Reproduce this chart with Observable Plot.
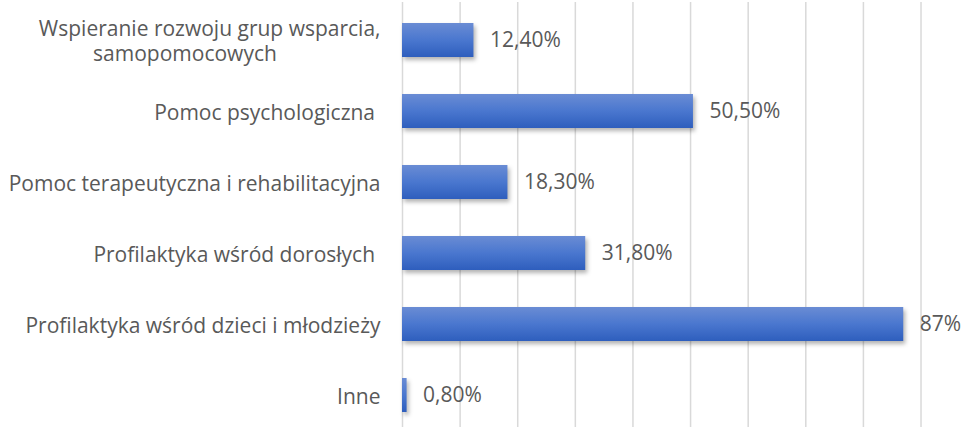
<!DOCTYPE html>
<html>
<head>
<meta charset="utf-8">
<script src="https://cdn.jsdelivr.net/npm/d3@7"></script>
<script src="https://cdn.jsdelivr.net/npm/@observablehq/plot@0.6"></script>
<style>
  html, body { margin: 0; padding: 0; background: #fff; overflow: hidden; }
  svg text { white-space: pre; }
</style>
</head>
<body>
<div id="chart"></div>
<script>
const categories = [
  "Wspieranie rozwoju grup wsparcia,\nsamopomocowych" + " ".repeat(19),
  "Pomoc psychologiczna ",
  "Pomoc terapeutyczna i rehabilitacyjna",
  "Profilaktyka wśród dorosłych ",
  "Profilaktyka wśród dzieci i młodzieży",
  "Inne"
];
const values = [12.4, 50.5, 18.3, 31.8, 87, 0.8];
const valueLabels = ["12,40%", "50,50%", "18,30%", "31,80%", "87%", "0,80%"];
const gridTicks = [0, 10, 20, 30, 40, 50, 60, 70, 80, 90];

const data = categories.map((c, i) => ({category: c, value: values[i], label: valueLabels[i]}));

const FONT = "'Open Sans', Lato, sans-serif";
const FS = 21;

const svg = Plot.plot({
  width: 962,
  height: 432,
  marginLeft: 402,
  marginRight: 0,
  marginTop: 2,
  marginBottom: 0,
  x: {domain: [0, 97.2], axis: null},
  y: {domain: categories, axis: null, paddingInner: 0.525, paddingOuter: 0.2625},
  style: {fontFamily: FONT, fontSize: FS + "px", color: "#595959", background: "white"},
  marks: [
    Plot.ruleX(gridTicks, {stroke: "#d9d9d9", strokeWidth: 1.5}),
    Plot.barX(data, {x: "value", y: "category", fill: "url(#barGrad)"}),
    Plot.text(data, {x: "value", y: "category", text: "label", textAnchor: "start", dx: 16, fill: "#595959", fontSize: FS}),
    Plot.text(data, {x: 0, y: "category", text: "category", textAnchor: "end", dx: -22, fill: "#595959", fontSize: FS, lineHeight: 1.2})
  ]
});

const defs = d3.select(svg).insert("defs", ":first-child");
const grad = defs.append("linearGradient").attr("id", "barGrad")
  .attr("x1", 0).attr("y1", 0).attr("x2", 0).attr("y2", 1);
grad.append("stop").attr("offset", "0%").attr("stop-color", "#6a8cd4");
grad.append("stop").attr("offset", "50%").attr("stop-color", "#4a77cf");
grad.append("stop").attr("offset", "100%").attr("stop-color", "#2e5ebd");
d3.select(svg).selectAll("g[aria-label=bar]").style("filter", "drop-shadow(2px 3px 2px rgba(0,0,0,0.3))");

document.getElementById("chart").appendChild(svg);
</script>
</body>
</html>
